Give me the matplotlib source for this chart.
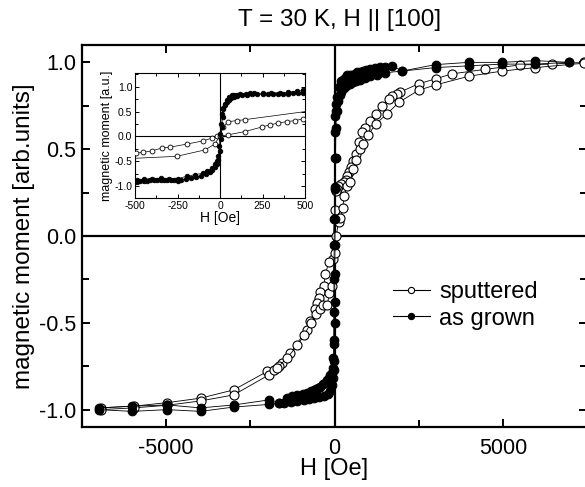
import matplotlib
matplotlib.use("Agg")
import matplotlib.pyplot as plt
from matplotlib.ticker import MultipleLocator
from matplotlib.lines import Line2D

plt.rcParams['font.family'] = ['Liberation Sans', 'DejaVu Sans']
plt.rcParams['axes.unicode_minus'] = False

# ---- main plot data (H in Oe, M in arb. units) ----
sput_desc_H = [7400, 6465, 5500, 4485, 3495, 3000, 2505, 1960, 1861, 1713, 1614, 1416, 1218, 1069, 900, 822,
               723, 624, 554, 495, 430, 376, 327, 270, 200, 110, 80, 30, 0, -50, -170, -270, -320, -435, -465,
               -515, -565, -713, -830, -1307, -1554, -1653, -2000, -2990, -3980, -4980, -5970, -6950]
sput_desc_M = [1.00, 0.99, 0.985, 0.96, 0.934, 0.905, 0.877, 0.83, 0.82, 0.805, 0.79, 0.75, 0.70, 0.66, 0.62, 0.60,
               0.54, 0.47, 0.43, 0.40, 0.37, 0.345, 0.32, 0.31, 0.30, 0.29, 0.27, 0.26, 0.15, -0.135, -0.15, -0.22,
               -0.29, -0.32, -0.356, -0.385, -0.42, -0.49, -0.54, -0.674, -0.73, -0.75, -0.78, -0.886, -0.934,
               -0.96, -0.98, -0.99]
sput_asc_H = [-6950, -5970, -4980, -3980, -2990, -1950, -1800, -1700, -1400, -1100, -900, -700, -560, -430, -330,
              -220, -150, -60, 0, 50, 120, 178, 240, 290, 376, 455, 554, 650, 770, 850, 1000, 1218, 1545, 1911,
              2505, 3000, 3990, 4980, 5970, 7400]
sput_asc_M = [-1.00, -0.99, -0.975, -0.95, -0.915, -0.80, -0.77, -0.76, -0.70, -0.63, -0.57, -0.50, -0.45, -0.42,
              -0.40, -0.40, -0.33, -0.29, -0.10, 0.0, 0.08, 0.106, 0.16, 0.23, 0.29, 0.31, 0.385, 0.44, 0.50, 0.53,
              0.58, 0.645, 0.70, 0.77, 0.84, 0.87, 0.92, 0.95, 0.97, 0.995]

grown_desc_H = [6960, 5970, 4980, 3990, 3000, 2010, 1713, 1500, 1366, 1200, 1069, 950, 850, 750, 673, 600, 520,
                450, 376, 300, 240, 180, 130, 80, 50, 30, 20, 10, 5, 0, -5, -10, -15, -20, -25, -30, -50, -80,
                -120, -170, -218, -280, -350, -416, -480, -550, -614, -700, -810, -950, -1109, -1250, -1406,
                -1653, -1950, -2990, -3980, -4970, -6010, -7000]
grown_desc_M = [1.00, 1.01, 1.00, 1.00, 0.987, 0.95, 0.98, 0.975, 0.973, 0.97, 0.963, 0.955, 0.95, 0.945, 0.944,
                0.935, 0.93, 0.925, 0.925, 0.91, 0.90, 0.89, 0.86, 0.80, 0.76, 0.72, 0.69, 0.60, 0.45, 0.27, 0.10,
                -0.05, -0.25, -0.44, -0.60, -0.70, -0.76, -0.79, -0.80, -0.82, -0.83, -0.845, -0.855, -0.87,
                -0.875, -0.88, -0.886, -0.895, -0.906, -0.91, -0.915, -0.92, -0.934, -0.963, -0.944, -0.973,
                -0.99, -0.973, -0.98, -0.99]
grown_asc_H = [-7000, -6010, -4970, -3980, -2990, -1950, -1653, -1500, -1300, -1100, -900, -750, -600, -450, -300,
               -200, -120, -60, -30, -15, -10, -5, 0, 5, 10, 15, 20, 25, 30, 40, 60, 100, 150, 200, 280, 350, 450,
               550, 650, 750, 900, 1050, 1250, 1500, 2010, 3000, 3990, 4980, 5970, 6960]
grown_asc_M = [-1.00, -1.01, -1.00, -1.01, -0.985, -0.97, -0.963, -0.96, -0.955, -0.95, -0.945, -0.94, -0.935,
               -0.93, -0.92, -0.91, -0.89, -0.86, -0.82, -0.77, -0.72, -0.62, -0.50, -0.38, -0.22, -0.05, 0.10,
               0.28, 0.45, 0.62, 0.72, 0.78, 0.81, 0.83, 0.85, 0.865, 0.875, 0.885, 0.89, 0.90, 0.91, 0.92, 0.93,
               0.94, 0.95, 0.97, 0.98, 0.99, 0.99, 1.00]

# ---- inset data ----
in_sput_a_H = [-494, -451, -402, -343, -294, -196, -98, -49, -20, 49, 147, 245, 294, 343, 392, 441, 490]
in_sput_a_M = [-0.335, -0.32, -0.29, -0.235, -0.215, -0.154, -0.087, -0.034, 0.0, 0.034, 0.10, 0.19, 0.235,
               0.27, 0.30, 0.32, 0.356]
in_sput_b_H = [-1000, -255, -88, -30, 0, 20, 49, 98, 147, 1000]
in_sput_b_M = [-0.52, -0.40, -0.27, -0.15, 0.02, 0.20, 0.30, 0.32, 0.34, 0.73]

in_grown_a_H = [-490, -470, -450, -430, -410, -390, -370, -350, -330, -310, -290, -270, -250, -230, -200, -170,
                -140, -110, -80, -60, -45, -30, -20, -10, 0, 5, 10, 15, 20, 30, 40, 50, 65, 80, 100, 130, 160, 190,
                220, 250, 280, 310, 340, 370, 400, 430, 460, 490]
in_grown_a_M = [-0.91, -0.90, -0.89, -0.89, -0.88, -0.88, -0.88, -0.87, -0.87, -0.87, -0.87, -0.87, -0.89, -0.88,
                -0.86, -0.84, -0.82, -0.80, -0.76, -0.72, -0.68, -0.62, -0.56, -0.48, -0.30, -0.05, 0.20, 0.40,
                0.55, 0.64, 0.70, 0.74, 0.78, 0.80, 0.82, 0.83, 0.84, 0.85, 0.85, 0.85, 0.85, 0.86, 0.86, 0.86,
                0.86, 0.87, 0.87, 0.88]
in_grown_b_H = [490, 450, 400, 350, 300, 250, 200, 176, 150, 120, 100, 80, 69, 55, 40, 29, 20, 10, 4, 0, -5, -10,
                -20, -30, -49, -78, -100, -147, -196, -245, -300, -350, -400, -450, -490]
in_grown_b_M = [0.93, 0.91, 0.89, 0.88, 0.88, 0.87, 0.87, 0.87, 0.86, 0.85, 0.84, 0.84, 0.84, 0.80, 0.73, 0.66,
                0.58, 0.45, 0.25, 0.05, -0.20, -0.40, -0.50, -0.56, -0.64, -0.70, -0.74, -0.77, -0.80, -0.85,
                -0.85, -0.84, -0.85, -0.86, -0.88]

main_xticks = [-5000, 0, 5000]
main_yticks = [-1.0, -0.5, 0.0, 0.5, 1.0]
inset_xticks = [-500, -250, 0, 250, 500]
inset_yticks = [-1.0, -0.5, 0.0, 0.5, 1.0]

W, H = 585, 487
fig = plt.figure(figsize=(W / 100, H / 100), dpi=100)

# main axes
AX_L, AX_R, AX_T, AX_B = 82, 587, 45, 427
ax = fig.add_axes([AX_L / W, (H - AX_B) / H, (AX_R - AX_L) / W, (AX_B - AX_T) / H])
for s in ax.spines.values():
    s.set_linewidth(1.6)
ax.axhline(0, color='black', lw=1.6, zorder=1)
ax.axvline(0, color='black', lw=1.6, zorder=1)

mkw_open = dict(marker='o', ms=6.5, mfc='white', mec='black', mew=0.8, color='black', lw=0.6)
mkw_fill = dict(marker='o', ms=6.2, mfc='black', mec='black', mew=0.8, color='black', lw=0.6)

ax.plot(sput_desc_H, sput_desc_M, zorder=3, **mkw_open)
ax.plot(sput_asc_H, sput_asc_M, zorder=3, **mkw_open)
ax.plot(grown_desc_H, grown_desc_M, zorder=4, **mkw_fill)
ax.plot(grown_asc_H, grown_asc_M, zorder=4, **mkw_fill)

ax.set_xlim(-7500, 7500)
ax.set_ylim(-1.1, 1.1)
ax.set_xticks(main_xticks)
ax.set_yticks(main_yticks)
ax.set_yticklabels([f"{v:.1f}" for v in main_yticks])
ax.xaxis.set_minor_locator(MultipleLocator(2500))
ax.yaxis.set_minor_locator(MultipleLocator(0.25))
ax.tick_params(which='both', direction='in', top=True, right=True, width=1.4, labelsize=15.5)
ax.tick_params(which='major', length=6)
ax.tick_params(axis='x', which='major', pad=8)
ax.tick_params(axis='y', which='major', pad=4)
ax.tick_params(which='minor', length=5)
ax.set_xlabel('H [Oe]', fontsize=17, labelpad=-1)
ax.set_ylabel('magnetic moment [arb.units]', fontsize=17.5, labelpad=3)

fig.text(340 / W, 1 - 20 / H, 'T = 30 K, H || [100]', ha='center', va='center', fontsize=17.5)

# legend (manual handles)
h1 = Line2D([], [], marker='o', ms=4.5, mfc='white', mec='black', mew=0.8, color='black', lw=0.8)
h2 = Line2D([], [], marker='o', ms=4.5, mfc='black', mec='black', mew=0.8, color='black', lw=0.8)
leg = ax.legend([h1, h2], ['sputtered', 'as grown'], loc='upper left',
                bbox_to_anchor=((393 - AX_L) / (AX_R - AX_L), 1 - (281 - AX_T) / (AX_B - AX_T)),
                frameon=False, fontsize=17, handlelength=1.55, handletextpad=0.4, labelspacing=0.2,
                borderaxespad=0, borderpad=0)

# inset axes
ins = fig.add_axes([135 / W, (H - 198) / H, (305 - 135) / W, (198 - 73) / H])
for s in ins.spines.values():
    s.set_linewidth(0.8)
ins.axhline(0, color='black', lw=0.8, zorder=1)
ins.axvline(0, color='black', lw=0.8, zorder=1)
ikw_open = dict(marker='o', ms=3.5, mfc='white', mec='black', mew=0.6, color='black', lw=0.5)
ikw_fill = dict(marker='o', ms=3.3, mfc='black', mec='black', mew=0.6, color='black', lw=0.5)
ins.plot(in_sput_a_H, in_sput_a_M, zorder=3, **ikw_open)
ins.plot(in_sput_b_H, in_sput_b_M, zorder=3, **ikw_open)
ins.plot(in_grown_a_H, in_grown_a_M, zorder=4, **ikw_fill)
ins.plot(in_grown_b_H, in_grown_b_M, zorder=4, **ikw_fill)
ins.set_xlim(-500, 500)
ins.set_ylim(-1.24, 1.28)
ins.set_xticks(inset_xticks)
ins.set_yticks(inset_yticks)
ins.set_yticklabels([f"{v:.1f}" for v in inset_yticks])
ins.xaxis.set_minor_locator(MultipleLocator(125))
ins.yaxis.set_minor_locator(MultipleLocator(0.25))
ins.tick_params(which='both', direction='in', top=True, right=True, width=0.7, labelsize=7.5, pad=2)
ins.tick_params(which='major', length=3)
ins.tick_params(which='minor', length=2)
ins.set_xlabel('H [Oe]', fontsize=10, labelpad=0)
ins.set_ylabel('magnetic moment [a.u.]', fontsize=9, labelpad=1)

fig.savefig('out.png', dpi=100)
